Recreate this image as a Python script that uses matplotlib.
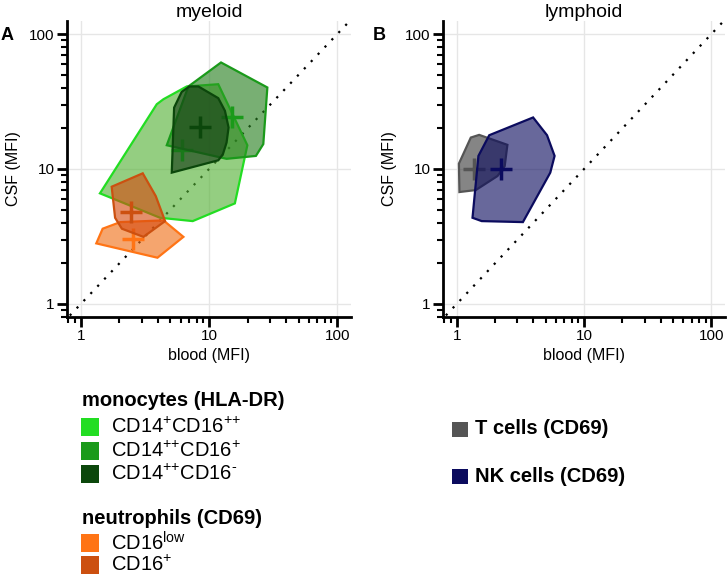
import matplotlib
matplotlib.use("Agg")
import matplotlib.pyplot as plt
from matplotlib.patches import Polygon, Rectangle
import numpy as np

plt.rcParams['font.family'] = ['Liberation Sans', 'DejaVu Sans']
plt.rcParams['mathtext.fontset'] = 'custom'
plt.rcParams['mathtext.rm'] = 'Liberation Sans'
plt.rcParams['mathtext.bf'] = 'Liberation Sans:bold'

# ---------------- data (blood MFI, CSF MFI) ----------------
mono_p_pp_x = [1.41, 4.15, 7.46, 15.9, 19.9, 11.8, 6.7, 4.41, 3.91]
mono_p_pp_y = [6.6, 4.35, 4.11, 5.56, 15.0, 42.5, 40.9, 32.9, 30.2]
mono_p_pp_mean = (6.15, 13.8)

mono_pp_p_x = [4.68, 6.9, 12.4, 28.5, 26.5, 23.2, 13.7]
mono_pp_p_y = [15.0, 40.9, 61.6, 40.2, 15.3, 12.5, 11.9]
mono_pp_p_mean = (15.2, 24.1)

mono_pp_m_x = [5.12, 5.34, 6.12, 7.03, 8.26, 11.8, 13.3, 14.2, 13.7, 12.8, 11.8]
mono_pp_m_y = [9.4, 28.5, 37.3, 40.9, 40.9, 33.5, 27.0, 20.3, 15.7, 12.8, 11.6]
mono_pp_m_mean = (8.5, 20.6)

neu_low_x = [1.32, 1.48, 2.03, 4.41, 6.31, 3.96]
neu_low_y = [2.81, 3.61, 4.04, 4.16, 3.14, 2.20]
neu_low_mean = (2.54, 3.04)

neu_p_x = [1.74, 3.04, 3.84, 4.54, 3.08, 2.09, 1.85]
neu_p_y = [7.39, 9.29, 6.3, 4.11, 3.14, 3.61, 4.35]
neu_p_mean = (2.47, 4.82)

tcell_x = [1.04, 1.29, 1.50, 2.50, 2.38, 2.09, 1.41, 1.05]
tcell_y = [10.96, 17.1, 17.9, 15.1, 10.5, 8.87, 6.98, 6.75]
tcell_mean = (1.37, 10.0)

nk_x = [1.33, 1.48, 1.80, 3.98, 5.12, 5.87, 5.43, 3.31, 1.57]
nk_y = [4.35, 12.5, 17.8, 24.1, 17.8, 12.5, 9.4, 4.04, 4.11]
nk_mean = (2.22, 10.0)

major_ticks = [1, 10, 100]
major_labels = ['1', '10', '100']

mono_labels = [r'CD14$^{\text{+}}$CD16$^{\text{++}}$',
               r'CD14$^{\text{++}}$CD16$^{\text{+}}$',
               r'CD14$^{\text{++}}$CD16$^{\text{-}}$']
neu_labels = [r'CD16$^{\text{low}}$', r'CD16$^{\text{+}}$']
lym_labels = ['T cells (CD69)', 'NK cells (CD69)']

# (legend/edge colour, fill colour)
c_lg = ('#22dd22', '#53b134')
c_mg = ('#1a9a1a', '#267f1e')
c_dg = ('#0b470b', '#143c14')
c_lo = ('#ff7415', '#ef6e15')
c_do = ('#cc5010', '#d54a0f')
c_gr = ('#555555', '#3a3a3a')
c_nk = ('#0b0b5e', '#0b0b5e')

fig = plt.figure(figsize=(7.27, 5.76), dpi=100)
axA = fig.add_axes([67/727, 1-317/576, (351-67)/727, (317-21)/576])
axB = fig.add_axes([443/727, 1-317/576, (725-443)/727, (317-21)/576])


def setup(ax, title):
    ax.set_xscale('log')
    ax.set_yscale('log')
    ax.set_xlim(0.78, 128)
    ax.set_ylim(0.8, 125)
    ax.set_xticks(major_ticks)
    ax.set_xticklabels(major_labels)
    ax.set_yticks(major_ticks)
    ax.set_yticklabels(major_labels)
    for s in ['top', 'right']:
        ax.spines[s].set_visible(False)
    for s in ['left', 'bottom']:
        ax.spines[s].set_linewidth(2)
    ax.tick_params(which='major', length=7, width=2, labelsize=11, pad=2)
    ax.tick_params(which='minor', length=4, width=1.5)
    ax.grid(True, which='major', color='#e6e6e6', linewidth=1)
    ax.set_axisbelow(True)
    ax.set_xlabel('blood (MFI)', fontsize=11.5, labelpad=3)
    ax.set_ylabel('CSF (MFI)', fontsize=11.5, labelpad=6)
    ax.set_title(title, fontsize=14, pad=2)
    d = np.array([0.5, 200])
    ax.plot(d, d, color='black', linestyle=(0, (1, 3.5)), linewidth=1.6, zorder=2)


def poly(ax, xs, ys, mean, colors, z, alpha=0.62):
    edge, fill = colors
    p = Polygon(np.column_stack([xs, ys]), closed=True, facecolor=fill, alpha=alpha,
                edgecolor='none', zorder=z)
    ax.add_patch(p)
    e = Polygon(np.column_stack([xs, ys]), closed=True, facecolor='none',
                edgecolor=edge, linewidth=1.6, zorder=z)
    ax.add_patch(e)
    ax.plot([mean[0]], [mean[1]], marker='+', markersize=16, markeredgewidth=2.5,
            color=edge, zorder=z + 0.5)


setup(axA, 'myeloid')
setup(axB, 'lymphoid')

poly(axA, mono_p_pp_x, mono_p_pp_y, mono_p_pp_mean, c_lg, 3)
poly(axA, mono_pp_p_x, mono_pp_p_y, mono_pp_p_mean, c_mg, 4)
poly(axA, mono_pp_m_x, mono_pp_m_y, mono_pp_m_mean, c_dg, 5)
poly(axA, neu_low_x, neu_low_y, neu_low_mean, c_lo, 6)
poly(axA, neu_p_x, neu_p_y, neu_p_mean, c_do, 7)

poly(axB, tcell_x, tcell_y, tcell_mean, c_gr, 3)
poly(axB, nk_x, nk_y, nk_mean, c_nk, 4)

fig.text(1/727, 1-36/576, 'A', fontsize=13, fontweight='bold', va='center')
fig.text(373/727, 1-36/576, 'B', fontsize=13, fontweight='bold', va='center')

# ---------------- legends ----------------
def sq(xp, yp, color, w=18, h=18):
    fig.patches.append(Rectangle((xp/727, 1-(yp+h/2)/576), w/727, h/576,
                                 transform=fig.transFigure, facecolor=color,
                                 edgecolor='none', figure=fig))

fig.text(82/727, 1-400/576, 'monocytes (HLA-DR)', fontsize=14.5, fontweight='bold', va='center')
for lbl, col, yp in zip(mono_labels, [c_lg, c_mg, c_dg], [427, 451, 474]):
    sq(81, yp, col[0])
    fig.text(111/727, 1-yp/576, lbl, fontsize=14.5, va='center')
fig.text(82/727, 1-518/576, 'neutrophils (CD69)', fontsize=14.5, fontweight='bold', va='center')
for lbl, col, yp in zip(neu_labels, [c_lo, c_do], [543, 565]):
    sq(81, yp, col[0])
    fig.text(111/727, 1-yp/576, lbl, fontsize=14.5, va='center')

for lbl, col, yp in zip(lym_labels, [c_gr, c_nk], [429, 476]):
    sq(452, yp, col[0], w=16, h=15)
    fig.text(475/727, 1-yp/576, lbl, fontsize=14.5, fontweight='bold', va='center')

fig.savefig('out.png', dpi=100)
